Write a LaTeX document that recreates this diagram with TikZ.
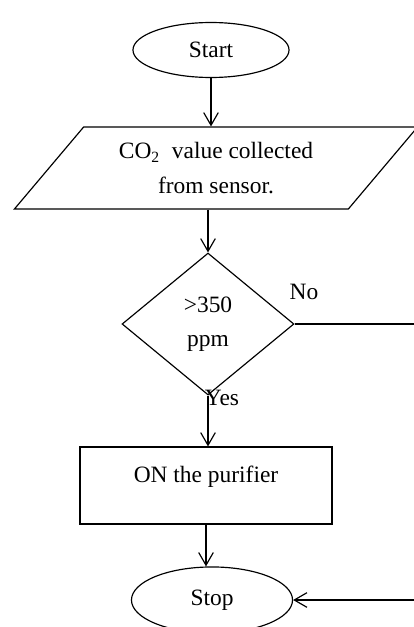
\documentclass[tikz,border=0pt]{standalone}
\usepackage{fontspec}
\setmainfont{Liberation Serif}
\usetikzlibrary{arrows.meta,shapes.geometric}

\begin{document}
\begin{tikzpicture}[x=0.018cm,y=-0.018cm,
    every node/.style={font=\fontsize{12}{17.5}\selectfont,inner sep=0pt},
    box/.style={draw,line width=0.6pt},
    flow/.style={line width=0.6pt,-{Straight Barb[length=6.5pt,width=7.5pt]}}]
  \useasboundingbox (0,0) rectangle (413,627);
  % start and input
  \node[box,ellipse,minimum width=2.81cm,minimum height=0.99cm] (start) at (211,50) {Start};
  \node[box,trapezium,trapezium left angle=45,trapezium right angle=135,trapezium stretches=true,
        minimum width=7.27cm,minimum height=1.476cm,align=center] (input) at (216,168)
        {CO\textsubscript{2}\ \ value collected\\from sensor.};
  % decision
  \node[box,diamond,minimum width=3.096cm,minimum height=2.556cm,align=center] (dec) at (208,324) {>350\\ppm};
  \node (no) at (304,292) {No};
  \node (yes) at (222,398) {Yes};
  % action and stop
  \node[box,rectangle,minimum width=4.536cm,minimum height=1.386cm,text height=10pt,text depth=12.6pt] (act) at (206,485.5) {ON the purifier};
  \node[box,ellipse,minimum width=2.9cm,minimum height=1.19cm] (stop) at (212,600) {Stop};
  \coordinate (edge) at (418,324);
  % connectors
  \draw[flow] (start.south) -- (start.south |- input.north);
  \draw[flow] (input.south -| dec.north) -- (dec.north);
  \draw[flow] (dec.south) -- (dec.south |- act.north);
  \draw[flow] (act.south) -- (act.south |- stop.north);
  \draw[flow] (dec.east) -- (edge) |- (stop.east);
\end{tikzpicture}
\end{document}
